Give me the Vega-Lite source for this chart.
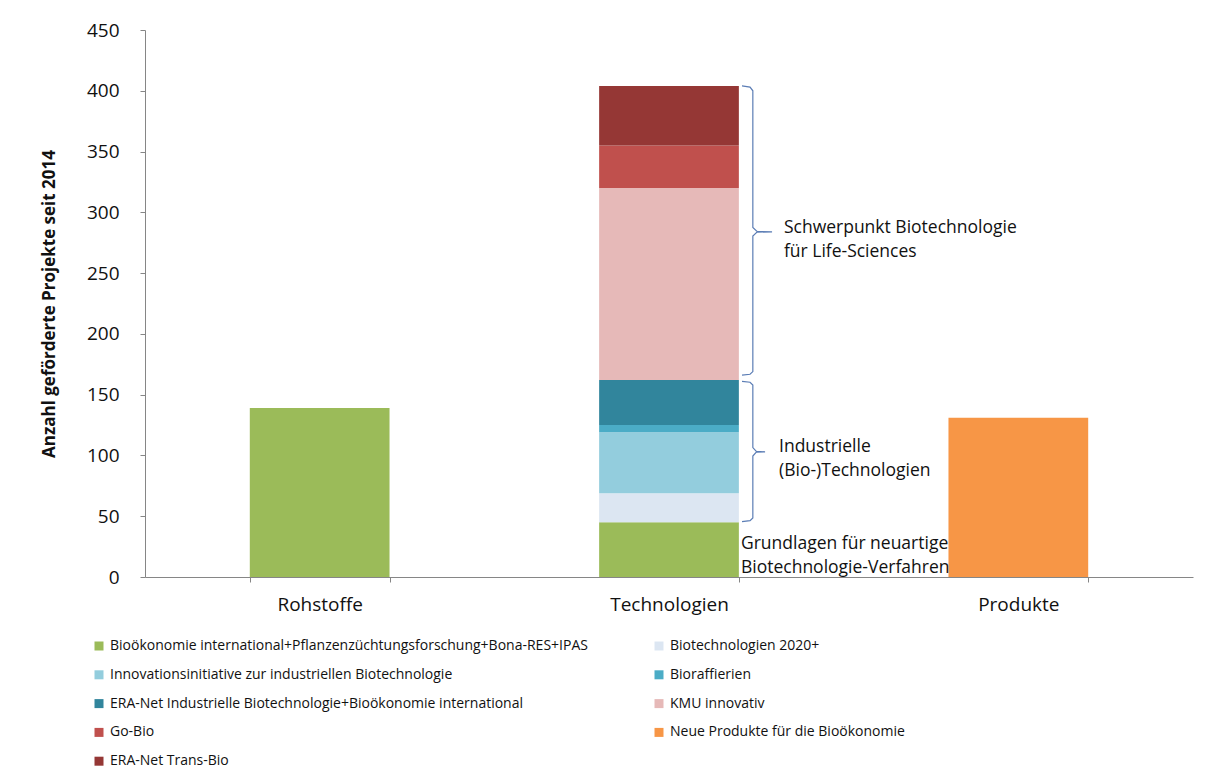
{
  "$schema": "https://vega.github.io/schema/vega-lite/v6.json",
  "width": 1048,
  "height": 547,
  "autosize": {"type": "none"},
  "padding": {"left": 145, "top": 30, "right": 15, "bottom": 203},
  "background": "white",
  "config": {
    "view": {"stroke": null},
    "font": "Open Sans",
    "axis": {"labelFont": "Open Sans", "titleFont": "Open Sans", "labelColor": "#111111", "titleColor": "#111111", "domainColor": "#868686", "tickColor": "#868686", "grid": false}
  },
  "datasets": {
    "bars": [
      {"cat": "Rohstoffe", "series": "Bioökonomie international+Pflanzenzüchtungsforschung+Bona-RES+IPAS", "value": 139, "k": 1},
      {"cat": "Technologien", "series": "Bioökonomie international+Pflanzenzüchtungsforschung+Bona-RES+IPAS", "value": 45, "k": 1},
      {"cat": "Technologien", "series": "Biotechnologien 2020+", "value": 24, "k": 2},
      {"cat": "Technologien", "series": "Innovationsinitiative zur industriellen Biotechnologie", "value": 50, "k": 3},
      {"cat": "Technologien", "series": "Bioraffierien", "value": 6, "k": 4},
      {"cat": "Technologien", "series": "ERA-Net Industrielle Biotechnologie+Bioökonomie international", "value": 37, "k": 5},
      {"cat": "Technologien", "series": "KMU innovativ", "value": 158, "k": 6},
      {"cat": "Technologien", "series": "Go-Bio", "value": 35, "k": 7},
      {"cat": "Technologien", "series": "ERA-Net Trans-Bio", "value": 49, "k": 8},
      {"cat": "Produkte", "series": "Neue Produkte für die Bioökonomie", "value": 131, "k": 9}
    ],
    "braces": [
      {"b": "up", "i": 1, "x": 1.709, "y": 404},
      {"b": "up", "i": 2, "x": 1.732, "y": 403},
      {"b": "up", "i": 3, "x": 1.740, "y": 400},
      {"b": "up", "i": 4, "x": 1.740, "y": 287.5},
      {"b": "up", "i": 5, "x": 1.752, "y": 284.3},
      {"b": "up", "i": 6, "x": 1.795, "y": 284},
      {"b": "up", "i": 7, "x": 1.752, "y": 283.7},
      {"b": "up", "i": 8, "x": 1.740, "y": 280.5},
      {"b": "up", "i": 9, "x": 1.740, "y": 169},
      {"b": "up", "i": 10, "x": 1.732, "y": 166.8},
      {"b": "up", "i": 11, "x": 1.709, "y": 166},
      {"b": "lo", "i": 1, "x": 1.709, "y": 161},
      {"b": "lo", "i": 2, "x": 1.732, "y": 160.2},
      {"b": "lo", "i": 3, "x": 1.740, "y": 158},
      {"b": "lo", "i": 4, "x": 1.740, "y": 106.5},
      {"b": "lo", "i": 5, "x": 1.750, "y": 103.3},
      {"b": "lo", "i": 6, "x": 1.775, "y": 103},
      {"b": "lo", "i": 7, "x": 1.750, "y": 102.7},
      {"b": "lo", "i": 8, "x": 1.740, "y": 99.5},
      {"b": "lo", "i": 9, "x": 1.740, "y": 48.5},
      {"b": "lo", "i": 10, "x": 1.732, "y": 46.3},
      {"b": "lo", "i": 11, "x": 1.709, "y": 45.5}
    ],
    "notes": [
      {"t": "Schwerpunkt Biotechnologie", "x": 1.829, "y": 287.1},
      {"t": "für Life-Sciences", "x": 1.829, "y": 267.4},
      {"t": "Industrielle", "x": 1.815, "y": 107},
      {"t": "(Bio-)Technologien", "x": 1.815, "y": 87.2},
      {"t": "Grundlagen für neuartige", "x": 1.706, "y": 27.1},
      {"t": "Biotechnologie-Verfahren", "x": 1.706, "y": 7.4}
    ]
  },
  "layer": [
    {
      "data": {"name": "bars"},
      "mark": {"type": "bar", "strokeWidth": 0},
      "encoding": {
        "x": {
          "field": "cat", "type": "nominal", "sort": ["Rohstoffe", "Technologien", "Produkte"],
          "scale": {"paddingInner": 0.6, "paddingOuter": 0.3},
          "axis": {"title": null, "labelAngle": 0, "labelFontSize": 19, "labelPadding": 13, "tickSize": 5, "tickBand": "extent", "ticks": true, "domainColor": "#868686"}
        },
        "y": {
          "field": "value", "type": "quantitative", "aggregate": "sum", "stack": "zero",
          "scale": {"domain": [0, 450], "nice": false},
          "axis": {"title": "Anzahl geförderte Projekte seit 2014", "titleFontSize": 17, "titleFontWeight": "bold", "titlePadding": 28, "values": [0, 50, 100, 150, 200, 250, 300, 350, 400, 450], "labelFontSize": 19, "labelPadding": 21, "tickSize": 5}
        },
        "color": {
          "field": "series", "type": "nominal",
          "scale": {
            "domain": ["Bioökonomie international+Pflanzenzüchtungsforschung+Bona-RES+IPAS", "Innovationsinitiative zur industriellen Biotechnologie", "ERA-Net Industrielle Biotechnologie+Bioökonomie international", "Go-Bio", "ERA-Net Trans-Bio", "Biotechnologien 2020+", "Bioraffierien", "KMU innovativ", "Neue Produkte für die Bioökonomie"],
            "range": ["#9BBB59", "#93CDDD", "#31859C", "#C0504D", "#953735", "#DCE6F2", "#4BACC6", "#E6B9B8", "#F79646"]
          },
          "legend": {
            "title": null, "orient": "none", "legendX": -53, "legendY": 609, "columns": 2, "columnPadding": 64,
            "rowPadding": 14.8, "padding": 0, "labelLimit": 800, "labelFont": "Open Sans", "labelFontSize": 14, "labelColor": "#111111",
            "symbolType": "square", "symbolSize": 81, "symbolStrokeWidth": 0, "labelOffset": 4
          }
        },
        "order": {"field": "k", "type": "quantitative", "sort": "ascending"}
      }
    },
    {
      "data": {"name": "braces"},
      "mark": {"type": "line", "color": "#5b7db5", "strokeWidth": 1.2},
      "encoding": {
        "x": {"field": "x", "type": "quantitative", "scale": {"domain": [0, 3], "nice": false, "zero": false}, "axis": null},
        "y": {"field": "y", "type": "quantitative"},
        "detail": {"field": "b", "type": "nominal"},
        "order": {"field": "i", "type": "quantitative"}
      }
    },
    {
      "data": {"name": "notes"},
      "mark": {"type": "text", "align": "left", "baseline": "middle", "font": "Open Sans", "fontSize": 17.5, "color": "#111111"},
      "encoding": {
        "x": {"field": "x", "type": "quantitative", "scale": {"domain": [0, 3], "nice": false, "zero": false}, "axis": null},
        "y": {"field": "y", "type": "quantitative"},
        "text": {"field": "t", "type": "nominal"}
      }
    }
  ],
  "resolve": {"scale": {"x": "independent"}, "axis": {"x": "independent"}}
}
